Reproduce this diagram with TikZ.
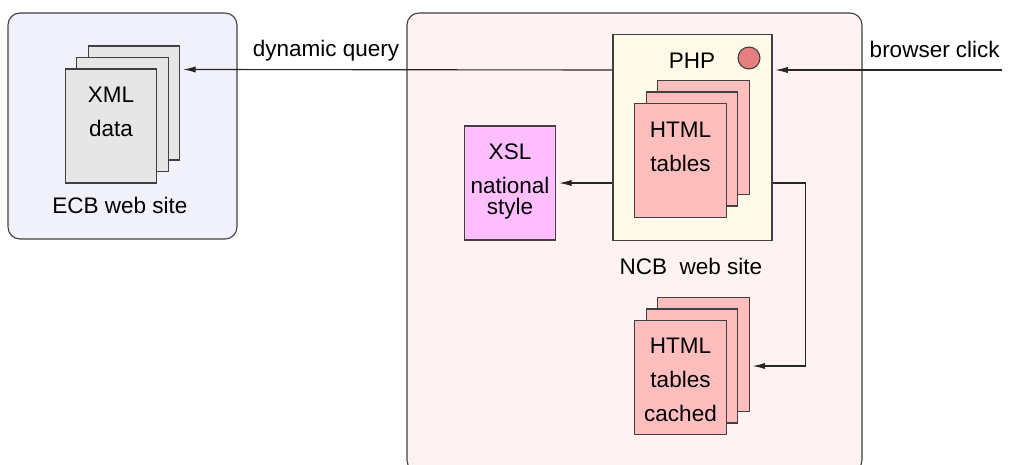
\documentclass[tikz,border=0pt]{standalone}
\usepackage{fontspec}
\setmainfont{Liberation Sans}
\usepackage{tikz}
\usetikzlibrary{arrows.meta,positioning,calc}

\definecolor{ecbfill}{RGB}{241,241,252}
\definecolor{ncbfill}{RGB}{255,242,242}
\definecolor{phpfill}{RGB}{255,249,232}
\definecolor{xmlgray}{RGB}{230,230,230}
\definecolor{htmlpink}{RGB}{255,190,190}
\definecolor{xslviolet}{RGB}{255,190,255}
\definecolor{phpdot}{RGB}{230,128,128}

\begin{document}
\begin{tikzpicture}[x=0.025cm, y=-0.025cm, line width=0.8pt,
	font=\fontsize{16}{24.2}\selectfont,
	site/.style={draw=black!75, rounded corners=8.5pt},
	sheet/.style={draw=black!75, minimum width=65pt, minimum height=81pt, inner sep=0pt},
	words/.style={anchor=north, align=center, inner sep=0pt},
	flow/.style={draw=black!85, -{Latex[length=9pt,width=4.5pt]}, shorten >=2pt}]
	\useasboundingbox (0,0) rectangle (1010,465);
	% the two web sites
	\draw[site, fill=ecbfill] (8,13) rectangle (237,239);
	\draw[site, fill=ncbfill] (407,13) rectangle (862,472);
	\node (ecbname) at (120,205) {ECB web site};
	\node (ncbname) at (691,266) {NCB~~web site};
	% XML data at the ECB
	\foreach \d/\n in {23/xmlc,11.5/xmlb,0/xml}
		\node[sheet, fill=xmlgray] (\n) at (111+\d,126-\d) {};
	\node[words] (xmltext) at ($(xml.north)+(0,18)$) {XML\\data};
	% PHP page with its HTML tables
	\node[draw=black!75, fill=phpfill, minimum width=113pt, minimum height=146.5pt] (php) at (692.5,137.5) {};
	\node (phpname) at (692,61) {PHP};
	\node[circle, draw=black!75, fill=phpdot, minimum size=15.6pt, inner sep=0pt] (dot) at (749,58) {};
	\foreach \d/\n in {23/htmlc,11.5/htmlb,0/html}
		\node[sheet, fill=htmlpink] (\n) at (680.5+\d,160.5-\d) {};
	\node[words] (htmltext) at ($(html.north)+(0,18)$) {HTML\\tables};
	% XSL style sheet
	\node[sheet, fill=xslviolet] (xsl) at (510,183) {};
	\node[words, font=\fontsize{16}{15}\selectfont] (xsltext) at ($(xsl.north)+(0,18)$) {XSL\\[9pt]national\\style};
	% cached tables
	\foreach \d/\n in {23/cachec,11.5/cacheb,0/cache}
		\node[sheet, fill=htmlpink] (\n) at (680.5+\d,377.5-\d) {};
	\node[words] (cachetext) at ($(cache.north)+(0,17)$) {HTML\\tables\\cached};
	% connectors
	\coordinate (click) at (1002,70);
	\draw[flow] (click) -- (php.east |- click);
	\node[anchor=base east] (clicktext) at (1005,58) {browser click};
	\draw[flow] (php.west |- click) -- ($(xmlc.north east)+(0,24)$);
	\node[anchor=base] (querytext) at (326,57) {dynamic query};
	\draw[flow] (php.west |- xsl) -- (xsl.east);
	\draw[flow] (php.east |- xsl) -- ++(33,0) |- (cachec.east |- cacheb);
\end{tikzpicture}
\end{document}
